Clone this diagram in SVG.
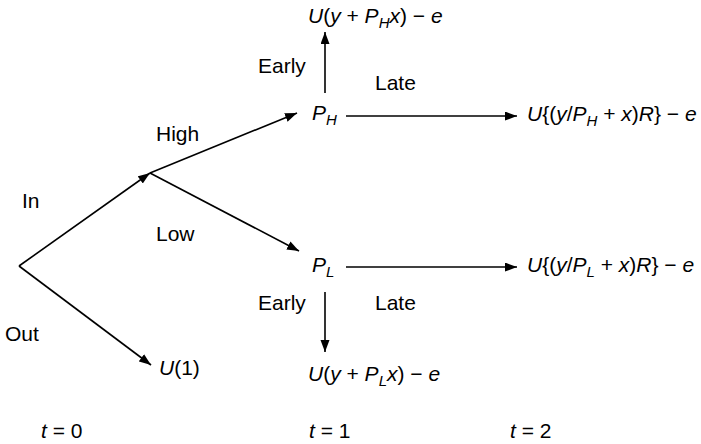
<svg xmlns="http://www.w3.org/2000/svg" width="701" height="444" viewBox="0 0 701 444">
<style>
text{font-family:"Liberation Sans",Arial,sans-serif;font-size:21px;fill:#000}
.i{font-style:italic}
.s{font-size:15px;font-style:italic}
.c line{stroke:#000;stroke-width:1.6;fill:none;marker-end:url(#ah)}
</style>
<defs>
<marker id="ah" markerUnits="userSpaceOnUse" markerWidth="13" markerHeight="10" refX="12" refY="4.5" orient="auto">
<path d="M0,0 L12,4.5 L0,9 z" fill="#000"/>
</marker>
</defs>
<rect width="701" height="444" fill="#fff"/>
<g id="connectors" class="c">
<line x1="19" y1="266" x2="150" y2="173"/>
<line x1="19" y1="266" x2="151" y2="365"/>
<line x1="150" y1="173" x2="297" y2="113"/>
<line x1="150" y1="173" x2="299" y2="251"/>
<line x1="346" y1="116" x2="517" y2="116"/>
<line x1="346" y1="267" x2="517" y2="267"/>
<line x1="325" y1="93" x2="325" y2="32"/>
<line x1="325" y1="292" x2="325" y2="352"/>
</g>
<g id="labels">
<text x="22" y="207.5">In</text>
<text x="5" y="340.5">Out</text>
<text x="156" y="140.5">High</text>
<text x="156" y="240.5">Low</text>
<text x="258" y="73">Early</text>
<text x="375" y="90">Late</text>
<text x="258" y="309.5">Early</text>
<text x="375" y="309.5">Late</text>
</g>
<g id="node-PH"><text x="312" y="120"><tspan class="i">P</tspan><tspan class="s" dy="5">H</tspan></text></g>
<g id="node-PL"><text x="312" y="272"><tspan class="i">P</tspan><tspan class="s" dy="5">L</tspan></text></g>
<g id="node-U1"><text x="159" y="375"><tspan class="i">U</tspan>(1)</text></g>
<g id="node-PH-early"><text x="308" y="22.5"><tspan class="i">U</tspan>(<tspan class="i">y</tspan> + <tspan class="i">P</tspan><tspan class="s" dy="5">H</tspan><tspan class="i" dy="-5">x</tspan>) − <tspan class="i">e</tspan></text></g>
<g id="node-PH-late"><text x="527" y="121"><tspan class="i">U</tspan>{(<tspan class="i">y</tspan>/<tspan class="i">P</tspan><tspan class="s" dy="5">H</tspan><tspan dy="-5"> + </tspan><tspan class="i">x</tspan>)<tspan class="i">R</tspan>} − <tspan class="i">e</tspan></text></g>
<g id="node-PL-late"><text x="527" y="272"><tspan class="i">U</tspan>{(<tspan class="i">y</tspan>/<tspan class="i">P</tspan><tspan class="s" dy="5">L</tspan><tspan dy="-5"> + </tspan><tspan class="i">x</tspan>)<tspan class="i">R</tspan>} − <tspan class="i">e</tspan></text></g>
<g id="node-PL-early"><text x="308" y="381"><tspan class="i">U</tspan>(<tspan class="i">y</tspan> + <tspan class="i">P</tspan><tspan class="s" dy="5">L</tspan><tspan class="i" dy="-5">x</tspan>) − <tspan class="i">e</tspan></text></g>
<g id="time">
<text x="41" y="437.5"><tspan class="i">t</tspan> = 0</text>
<text x="309" y="437.5"><tspan class="i">t</tspan> = 1</text>
<text x="510" y="437.5"><tspan class="i">t</tspan> = 2</text>
</g>
</svg>
